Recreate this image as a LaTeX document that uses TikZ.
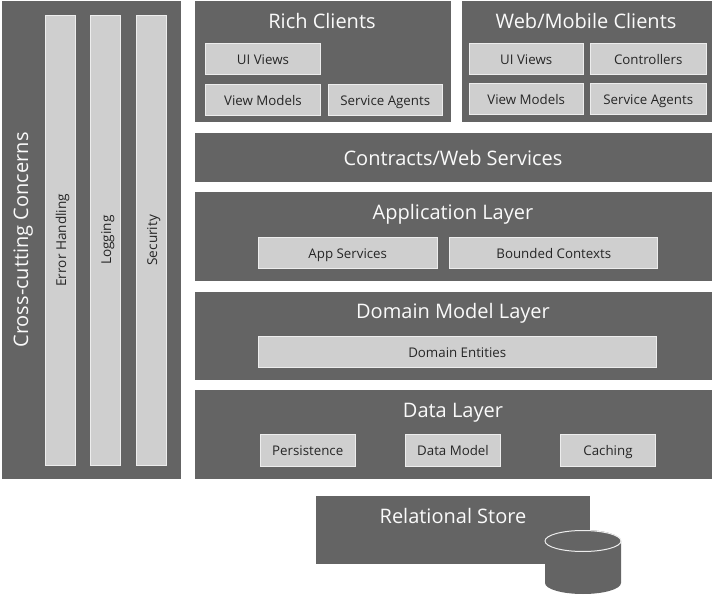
\documentclass[tikz,border=0pt]{standalone}
\usepackage{fontspec}
\setmainfont{Open Sans}
\definecolor{panel}{HTML}{646464}
\definecolor{chip}{HTML}{CFCFCF}
\definecolor{chipedge}{HTML}{EDEDED}
\definecolor{chiptext}{HTML}{262626}
\definecolor{titletext}{HTML}{FAFAFA}
\newcommand{\bx}[6]{\node[#1,minimum width={(#4-#2)*1pt},minimum height={(#5-#3)*1pt}] (#6) at ({(#2+#4)/2},{(#3+#5)/2}) {};}
\newcommand{\chipnode}[6]{\node[chipbox,minimum width={(#3-#1-1)*1pt},minimum height={(#4-#2-1)*1pt}] (#5) at ({(#1+#3)/2-0.25},{(#2+#4)/2-0.25}) {#6};}
\begin{document}
\begin{tikzpicture}[x=1pt,y=-1pt,
  panelbox/.style={rectangle,fill=panel,draw=none,inner sep=0pt,outer sep=0pt},
  chipbox/.style={rectangle,fill=chip,draw=chipedge,line width=1pt,inner sep=0pt,outer sep=0pt,text=chiptext,font=\fontsize{13.3}{15}\selectfont,text height=11.4pt,text depth=0.8pt},
  title/.style={text=titletext,font=\fontsize{20}{23}\selectfont,inner sep=0pt,text height=16.4pt,text depth=2pt},
  barlabel/.style={text=chiptext,font=\fontsize{13.6}{15}\selectfont,inner sep=0pt,rotate=90,text height=11.6pt,text depth=0.6pt},
]
\useasboundingbox (0,0) rectangle (713,596);
% panels
\bx{panelbox}{2}{1}{181}{479}{cross}
\bx{panelbox}{195}{1}{451}{122}{rich}
\bx{panelbox}{462}{1}{712}{122}{web}
\bx{panelbox}{195}{133}{712}{182}{contracts}
\bx{panelbox}{195}{192}{712}{281}{app}
\bx{panelbox}{195}{292}{712}{380}{domain}
\bx{panelbox}{195}{390}{712}{479}{data}
\bx{panelbox}{316}{496}{590}{564}{store}
% titles
\node[title,rotate=90] (crosst) at (21,240) {Cross-cutting Concerns};
\node[title] (richt) at (322,21) {Rich Clients};
\node[title] (webt) at (586,21) {Web/Mobile Clients};
\node[title] (contractst) at (453,158) {Contracts/Web Services};
\node[title] (appt) at (453,212) {Application Layer};
\node[title] (domaint) at (453,311) {Domain Model Layer};
\node[title] (datat) at (453,410) {Data Layer};
\node[title] (storet) at (453,516) {Relational Store};
% vertical bars
\chipnode{45}{15}{76.5}{466}{err}{}
\chipnode{90}{15}{121.5}{466}{log}{}
\chipnode{136}{15}{167.5}{466}{sec}{}
\node[barlabel] (errt) at (err) {Error Handling};
\node[barlabel] (logt) at (log) {Logging};
\node[barlabel] (sect) at (sec) {Security};
% chips
\chipnode{205.5}{43.5}{321}{75.5}{rui}{UI Views}
\chipnode{205.5}{84}{321}{116}{rvm}{View Models}
\chipnode{328}{84}{443}{116}{rsa}{Service Agents}
\chipnode{469}{43}{584}{75}{wui}{UI Views}
\chipnode{590}{43}{707}{75}{wct}{Controllers}
\chipnode{469}{83}{584}{115}{wvm}{View Models}
\chipnode{590}{83}{707}{115}{wsa}{Service Agents}
\chipnode{258}{237}{438}{269}{asv}{App Services}
\chipnode{449.5}{237}{658.5}{269}{bct}{Bounded Contexts}
\chipnode{258}{336}{657}{368}{den}{Domain Entities}
\chipnode{260}{434.5}{356}{467}{per}{Persistence}
\chipnode{405.5}{434.5}{501}{467}{dmo}{Data Model}
\chipnode{560.5}{434.5}{656}{467}{cac}{Caching}
% cylinder
\fill[panel] (545,541) -- (545,583) arc[start angle=180,end angle=360,x radius=38,y radius=-11] -- (621,541) arc[start angle=0,end angle=180,x radius=38,y radius=-11] -- cycle;
\draw[chipedge,line width=1pt] (545,541) arc[start angle=180,end angle=360,x radius=38,y radius=10.5] arc[start angle=0,end angle=180,x radius=38,y radius=10.5];
\end{tikzpicture}
\end{document}
